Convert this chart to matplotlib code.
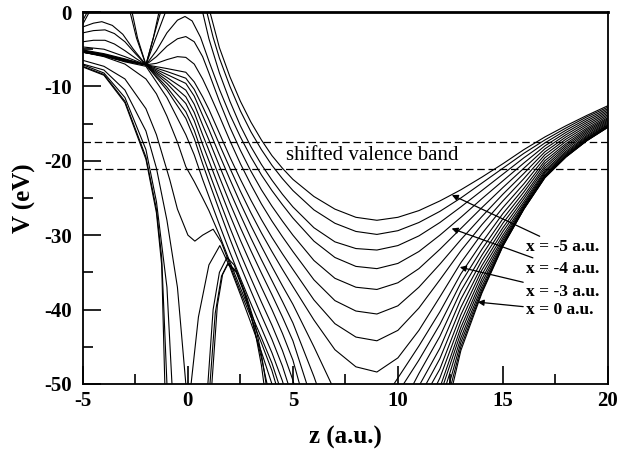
import matplotlib
matplotlib.use('Agg')
import matplotlib.pyplot as plt

plt.rcParams['font.family'] = ['Liberation Serif', 'DejaVu Serif']
plt.rcParams['axes.unicode_minus'] = False

# z grid shared by the right-hand part of every curve (z >= 4)
RIGHT_Z = [4, 4.5, 5, 6, 7, 8, 9, 10, 11, 12, 13, 14, 15, 16, 17, 18, 19, 20]

# left-hand part of each curve (z < 4) as (z, V) points, top curve (x = -5) first
LEFT_PARTS = [
    [(-5, -1.1), (-4.7, 0.5), (-4, 3), (-3.2, 3), (-2.7, 0.5), (-2.4, -3.5), (-2, -7.1), (-1.7, -4), (-1.4, -1), (-1.2, 1),
     (0.9, 1), (1.05, 0), (1.5, -4.8), (2, -8.7), (2.5, -12), (3, -14.8), (3.5, -17.2)],
    [(-5, -1.6), (-4.6, 0.5), (-4, 3), (-3.2, 3), (-2.8, 0.5), (-2.45, -3.5), (-2, -7.1), (-1.65, -3.5), (-1.3, 1),
     (0.7, 1), (0.9, 0), (1.2, -3.4), (1.5, -6.2), (2, -10.0), (2.5, -13.3), (3, -16.1), (3.5, -18.5)],
    [(-5, -2.0), (-4.5, -1.5), (-4.1, -1.3), (-3.6, -1.8), (-3.1, -3), (-2.6, -5), (-2, -7.1), (-1.6, -4), (-1.2, -1),
     (-1, 0.5), (0.5, 0.5), (0.7, 0), (1, -3.6), (1.5, -8.2), (2, -12.0), (2.5, -15.3), (3, -18.1), (3.5, -20.5)],
    [(-5, -2.8), (-4.5, -2.5), (-3.95, -2.4), (-3.5, -2.9), (-3, -4), (-2.5, -5.6), (-2, -7.1), (-1.5, -5.2), (-1, -2.8),
     (-0.5, -1.1), (-0.14, -0.6), (0.2, -1.2), (0.6, -3.4), (1, -6.6), (1.5, -10.4), (2, -13.8), (2.5, -16.8),
     (3, -19.5), (3.5, -21.9)],
    [(-5, -4.0), (-4.5, -3.8), (-3.95, -3.8), (-3.5, -4.3), (-3, -5.2), (-2.5, -6.2), (-2, -7.1), (-1.5, -6.0), (-1, -4.6),
     (-0.5, -3.6), (-0.1, -3.3), (0.3, -4.0), (0.7, -6.0), (1, -8.2), (1.5, -12.0), (2, -15.5), (2.5, -18.6),
     (3, -21.4), (3.5, -23.9)],
    [(-5, -4.7), (-4, -5.0), (-3, -6.0), (-2, -7.1), (-1.5, -6.9), (-1, -6.4), (-0.5, -6.0), (-0.1, -6.1), (0.3, -7.0),
     (0.7, -9.0), (1, -10.8), (1.5, -14.0), (2, -17.3), (2.5, -20.4), (3, -23.2), (3.5, -25.8)],
    [(-5, -5.1), (-4, -5.6), (-3, -6.3), (-2, -7.1), (-1, -7.6), (-0.1, -8.1), (0.3, -9.4), (0.7, -11.4), (1, -13.1),
     (1.5, -16.3), (2, -19.5), (2.5, -22.5), (3, -25.3), (3.5, -27.9)],
    [(-5, -5.2), (-4, -5.7), (-3, -6.4), (-2, -7.1), (-1, -8.0), (-0.1, -8.9), (0.3, -10.4), (0.7, -12.7), (1, -14.5),
     (1.5, -17.8), (2, -21.0), (2.5, -24.1), (3, -27.0), (3.5, -29.7)],
    [(-5, -5.2), (-4, -5.7), (-3, -6.4), (-2, -7.1), (-1, -8.4), (-0.1, -9.6), (0.3, -11.3), (0.7, -13.9), (1, -15.8),
     (1.5, -19.2), (2, -22.5), (2.5, -25.7), (3, -28.7), (3.5, -31.5)],
    [(-5, -5.3), (-4, -5.8), (-3, -6.5), (-2, -7.1), (-1, -8.8), (-0.1, -10.5), (0.3, -12.4), (0.7, -15.2), (1, -17.2),
     (1.5, -20.7), (2, -24.1), (2.5, -27.3), (3, -30.4), (3.5, -33.3)],
    [(-5, -5.3), (-4, -5.8), (-3, -6.5), (-2, -7.1), (-1, -9.2), (-0.1, -11.4), (0.3, -13.5), (0.7, -16.5), (1, -18.6),
     (1.5, -22.2), (2, -25.7), (2.5, -29.0), (3, -32.1), (3.5, -35.1)],
    [(-5, -5.4), (-4, -5.9), (-3, -6.6), (-2, -7.1), (-1, -9.6), (-0.1, -12.3), (0.3, -14.6), (0.7, -17.8), (1, -20.0),
     (1.5, -23.7), (2, -27.3), (2.5, -30.7), (3, -33.9), (3.5, -37.0)],
    [(-5, -5.4), (-4, -5.9), (-3, -6.6), (-2, -7.1), (-1, -10.1), (-0.1, -13.4), (0.3, -15.9), (0.7, -19.2), (1, -21.5),
     (1.5, -25.3), (2, -29.0), (2.5, -32.5), (3, -35.8), (3.5, -39.0)],
    [(-5, -5.4), (-4, -5.9), (-3, -6.6), (-2, -7.1), (-1, -10.5), (-0.1, -14.3), (0.3, -17.0), (0.7, -20.4), (1, -22.8),
     (1.5, -26.7), (2, -30.5), (2.5, -34.1), (3, -37.5), (3.5, -40.8)],
    [(-5, -5.4), (-4, -5.9), (-3, -6.7), (-2, -7.3), (-1, -11.5), (-0.1, -16.5), (0.3, -19.2), (0.7, -22.5), (1, -24.8),
     (1.5, -28.6), (2, -32.3), (2.5, -35.8), (3, -39.2), (3.5, -42.5)],
    [(-5, -5.4), (-4, -6), (-3, -7), (-2, -9), (-1.5, -11), (-1, -14), (-0.5, -17.5), (-0.1, -20.8), (0.3, -22.8),
     (0.7, -25.0), (1, -26.7), (1.5, -30.0), (2, -33.6), (2.5, -37.1), (3, -40.5), (3.5, -43.8)],
    [(-5, -6.5), (-4, -7.3), (-3, -9), (-2, -13), (-1.5, -16.5), (-0.86, -22.6), (-0.5, -26.5), (0, -30), (0.33, -30.8),
     (0.7, -30), (1.2, -29.2), (1.6, -31.0), (2, -34.0), (2.5, -37.6), (3, -41.0), (3.5, -44.5)],
    [(-5, -7.0), (-4, -7.8), (-3, -10.5), (-2, -16), (-1.5, -21), (-1, -28), (-0.5, -37), (-0.1, -50), (0, -58),
     (0.15, -50), (0.5, -41), (1, -34), (1.52, -31.4), (2, -34.3), (2.5, -38.0), (3, -41.8), (3.5, -45.7)],
    [(-5, -7.1), (-4, -8.2), (-3, -11.5), (-2, -18.5), (-1.5, -25.5), (-1, -37), (-0.76, -50), (-0.5, -65),
     (0.7, -65), (0.95, -50), (1.2, -40), (1.5, -35), (1.86, -33), (2.2, -34.0), (2.6, -37.0), (3, -40.8), (3.5, -46.5)],
    [(-5, -7.3), (-4, -8.4), (-3, -12), (-2, -19.5), (-1.5, -26.5), (-1.25, -33), (-1.0, -50), (-0.9, -60),
     (0.9, -60), (1.05, -50), (1.3, -40.5), (1.6, -35.5), (1.9, -33.8), (2.3, -34.8), (2.8, -38.3), (3.2, -42),
     (3.5, -46)],
    [(-5, -7.4), (-4, -8.5), (-3, -12.2), (-2, -19.8), (-1.5, -27), (-1.25, -34), (-1.1, -50), (-1, -60),
     (1, -60), (1.14, -50), (1.4, -39.5), (1.65, -35.3), (1.9, -33.9), (2.3, -35), (2.8, -38.6), (3.2, -43),
     (3.5, -47.5)],
]

# V on RIGHT_Z for each curve, same order as LEFT_PARTS
RIGHT_V = [
    [-19.3, -21.0, -22.5, -24.8, -26.5, -27.6, -28.0, -27.6, -26.7, -25.4, -23.9, -22.2, -20.4, -18.5, -16.8, -15.3, -13.9, -12.6],
    [-20.6, -22.4, -24.0, -26.6, -28.4, -29.5, -29.9, -29.4, -28.3, -26.8, -25.0, -23.0, -21.0, -19.0, -17.2, -15.6, -14.1, -12.8],
    [-22.6, -24.5, -26.2, -29.0, -30.9, -31.8, -32.0, -31.4, -30.1, -28.3, -26.2, -24.0, -21.8, -19.6, -17.6, -15.9, -14.35, -13.0],
    [-24.0, -25.9, -27.7, -30.8, -33.0, -34.2, -34.5, -33.8, -32.2, -30.0, -27.6, -25.1, -22.7, -20.3, -18.0, -16.2, -14.6, -13.2],
    [-26.1, -28.1, -30.0, -33.4, -35.8, -37.0, -37.3, -36.4, -34.5, -31.9, -29.1, -26.3, -23.6, -21.0, -18.4, -16.5, -14.85, -13.4],
    [-28.1, -30.2, -32.2, -36.0, -38.8, -40.2, -40.6, -39.5, -37.0, -33.9, -30.6, -27.5, -24.5, -21.7, -18.8, -16.8, -15.1, -13.6],
    [-30.3, -32.5, -34.6, -38.7, -41.9, -43.7, -44.2, -42.8, -39.8, -36.0, -32.1, -28.6, -25.4, -22.4, -19.2, -17.1, -15.35, -13.8],
    [-32.2, -34.6, -36.9, -41.4, -45.4, -47.7, -48.4, -46.5, -42.8, -38.3, -33.7, -29.8, -26.3, -23.1, -19.6, -17.4, -15.6, -14.0],
    [-34.2, -36.8, -39.3, -45.0, -51.0, -54.0, -53.5, -49.2, -44.9, -40.3, -35.2, -31.0, -27.1, -23.7, -20.0, -17.7, -15.8, -14.2],
    [-36.1, -38.9, -41.8, -49.0, -57, -60, -58, -51.2, -46.8, -42.0, -36.4, -31.9, -27.8, -24.2, -20.35, -17.95, -16.0, -14.35],
    [-38.0, -41.0, -44.2, -53, -62, -66, -63, -54, -48.6, -43.6, -37.5, -32.7, -28.4, -24.7, -20.7, -18.2, -16.2, -14.5],
    [-40.0, -43.2, -46.8, -57, -67, -71, -68, -58, -50.3, -45.2, -38.6, -33.4, -29.0, -25.1, -21.0, -18.45, -16.4, -14.65],
    [-42.1, -45.5, -49.5, -60, -72, -76, -74, -63, -51.8, -46.6, -39.7, -34.1, -29.5, -25.5, -21.3, -18.7, -16.6, -14.8],
    [-44.0, -47.6, -52, -64, -76, -80, -78, -66, -53, -48.0, -40.7, -34.7, -30.0, -25.8, -21.5, -18.9, -16.75, -14.95],
    [-45.8, -49.6, -54.5, -67, -80, -82, -80, -70, -55, -49.2, -41.6, -35.3, -30.4, -26.0, -21.7, -19.05, -16.9, -15.1],
    [-47.2, -51.5, -57, -70, -82, -84, -82, -72, -58, -50.5, -42.4, -35.9, -30.7, -26.2, -21.9, -19.2, -17.0, -15.2],
    [-48.2, -53, -60, -74, -84, -86, -84, -75, -60, -51.5, -43.1, -36.4, -31.0, -26.3, -22.0, -19.3, -17.1, -15.3],
    [-50.0, -57, -66, -78, -86, -88, -86, -78, -63, -52.8, -43.8, -36.9, -31.2, -26.4, -22.1, -19.4, -17.2, -15.4],
    [-53.0, -60, -70, -82, -88, -90, -88, -80, -66, -54.5, -44.4, -37.3, -31.35, -26.45, -22.2, -19.45, -17.25, -15.45],
    [-55, -64, -74, -84, -90, -92, -90, -82, -68, -56.0, -45.0, -37.6, -31.45, -26.5, -22.25, -19.5, -17.3, -15.5],
    [-58, -68, -78, -86, -92, -94, -92, -84, -70, -57.5, -45.5, -37.8, -31.5, -26.5, -22.3, -19.5, -17.3, -15.5],
]

# shifted valence band edges (eV)
BAND_EDGES = [-17.5, -21.1]

# labelled curves: text, arrow tip (z, V), text position (z, V)
LABELS = ['x = -5 a.u.', 'x = -4 a.u.', 'x = -3 a.u.', 'x = 0 a.u.']
ARROW_TIPS = [(12.57, -24.6), (12.56, -29.1), (12.95, -34.3), (13.8, -39.0)]
TEXT_POS = [(16.1, -31.6), (16.1, -34.5), (16.1, -37.6), (16.1, -40.1)]


def main():
    fig = plt.figure(figsize=(6.19, 4.62), dpi=100)
    ax = fig.add_axes([0.134, 0.169, 0.848, 0.805])

    for left, right in zip(LEFT_PARTS, RIGHT_V):
        z = [p[0] for p in left] + RIGHT_Z
        v = [p[1] for p in left] + right
        ax.plot(z, v, color='black', linewidth=0.8, solid_joinstyle='round')

    for edge in BAND_EDGES:
        ax.axhline(edge, color='black', linewidth=0.9, linestyle=(0, (6, 3)))
    ax.text(8.76, -19.35, 'shifted valence band', fontsize=15,
            ha='center', va='center')

    for label, tip, pos in zip(LABELS, ARROW_TIPS, TEXT_POS):
        ax.annotate(label, xy=tip, xytext=pos, fontsize=12.5, fontweight='bold',
                    ha='left', va='center',
                    arrowprops=dict(arrowstyle='-|>', color='black', lw=0.9,
                                    mutation_scale=9, shrinkA=0, shrinkB=0))

    ax.set_xlim(-5, 20)
    ax.set_ylim(-50, 0)
    ax.set_xticks([-5, 0, 5, 10, 15, 20])
    ax.set_xticks([-2.5, 2.5, 7.5, 12.5, 17.5], minor=True)
    ax.set_yticks([0, -10, -20, -30, -40, -50])
    ax.set_yticks([-5, -15, -25, -35, -45], minor=True)
    ax.tick_params(which='both', direction='in', top=False, right=False,
                   width=1.2, labelsize=15)
    ax.tick_params(which='major', length=13)
    ax.tick_params(which='minor', length=7)
    ax.tick_params(axis='y', pad=8)
    ax.tick_params(axis='x', pad=5)
    for lab in ax.get_xticklabels() + ax.get_yticklabels():
        lab.set_fontweight('bold')

    for side in ['left', 'bottom', 'right']:
        ax.spines[side].set_linewidth(1.3)
    ax.spines['top'].set_linewidth(2.0)

    ax.set_xlabel('z (a.u.)', fontsize=18, fontweight='bold', labelpad=11)
    ax.set_ylabel('V (eV)', fontsize=18, fontweight='bold', labelpad=6)

    fig.savefig('out.png', dpi=100)


if __name__ == '__main__':
    main()
